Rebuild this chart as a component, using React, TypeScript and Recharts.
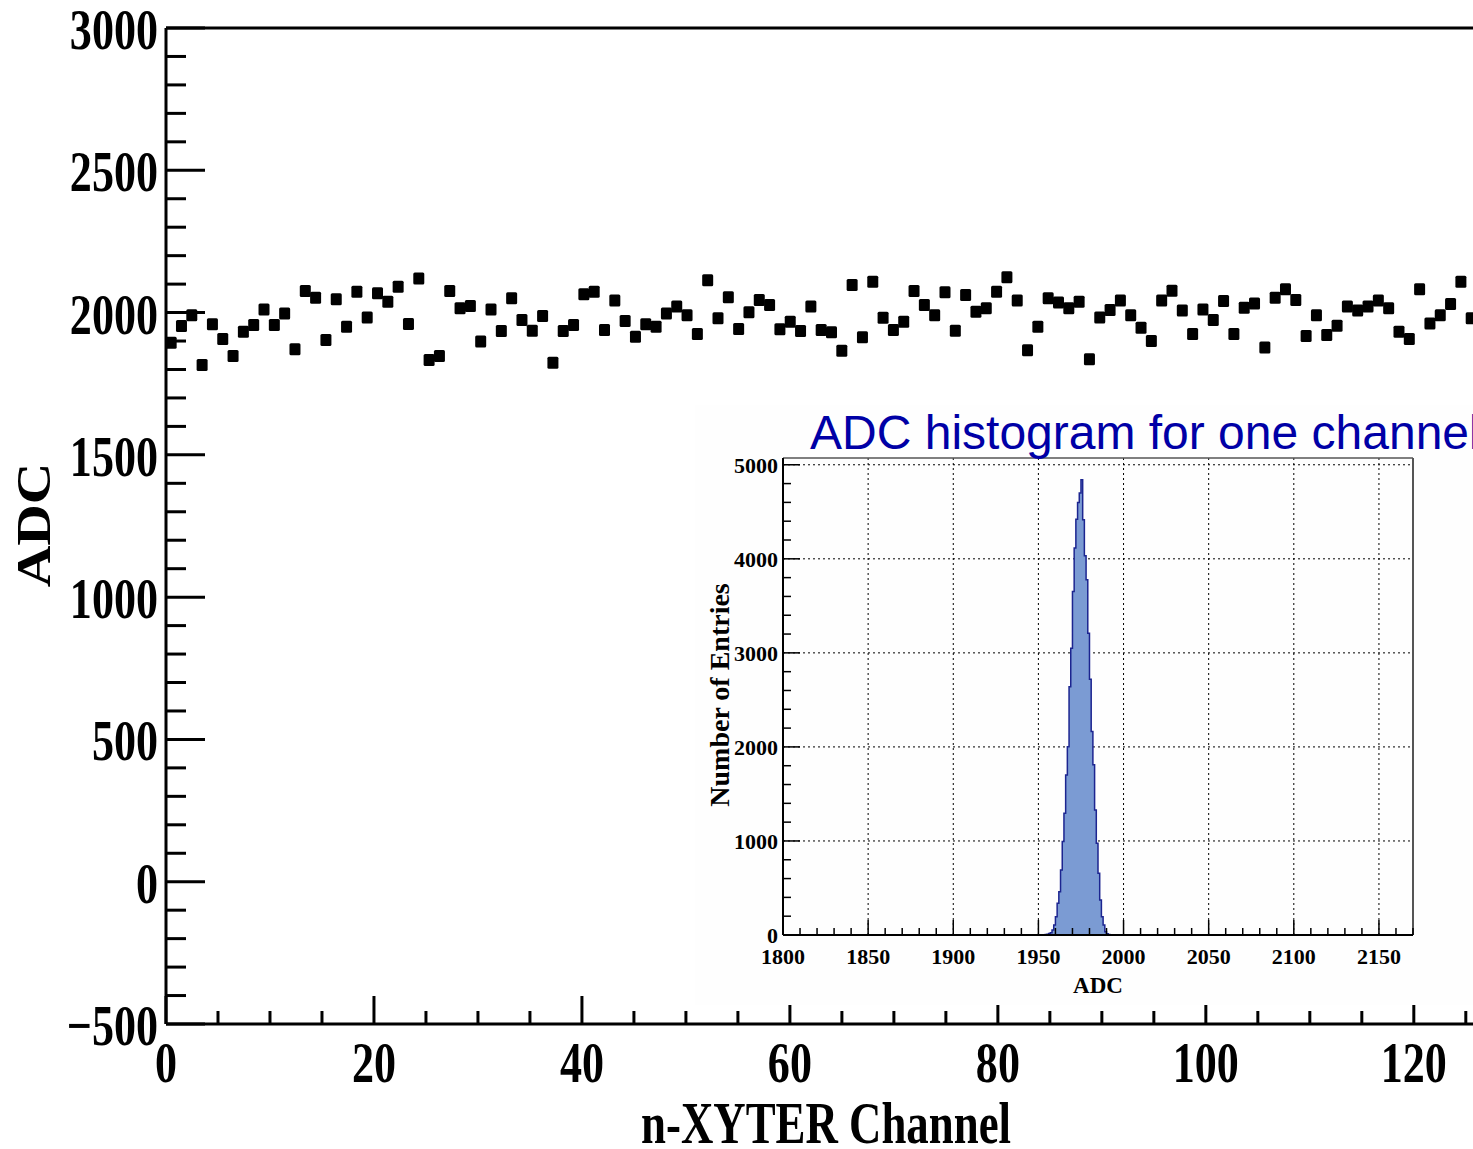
import { ScatterChart, Scatter, XAxis, YAxis, ComposedChart, Area, CartesianGrid, ReferenceLine } from "recharts"

// mean ADC per n-XYTER channel (0..126 visible)
const channelAdc = [
  1894, 1953, 1991, 1816, 1959, 1907, 1847, 1933, 1956, 2011,
  1956, 1997, 1871, 2076, 2052, 1904, 2047, 1950, 2073, 1983,
  2068, 2038, 2091, 1960, 2120, 1833, 1847, 2076, 2015, 2023,
  1898, 2011, 1935, 2050, 1974, 1936, 1988, 1824, 1935, 1956,
  2064, 2073, 1939, 2042, 1970, 1915, 1959, 1950, 1997, 2021,
  1991, 1925, 2114, 1980, 2054, 1942, 2001, 2044, 2027, 1941,
  1968, 1935, 2021, 1939, 1931, 1866, 2097, 1913, 2108, 1982,
  1939, 1968, 2076, 2027, 1991, 2071, 1936, 2062, 2003, 2015,
  2073, 2124, 2042, 1868, 1950, 2050, 2035, 2015, 2038, 1836,
  1983, 2009, 2042, 1991, 1947, 1900, 2042, 2077, 2007, 1925,
  2011, 1974, 2041, 1925, 2017, 2032, 1877, 2052, 2082, 2044,
  1918, 1991, 1921, 1954, 2021, 2007, 2021, 2042, 2015, 1933,
  1907, 2082, 1962, 1991, 2030, 2108, 1980,
]

// inset histogram: bin low edge (ADC) and entries
const histBins = [
  1953, 1954, 1955, 1956, 1957, 1958, 1959, 1960, 1961, 1962,
  1963, 1964, 1965, 1966, 1967, 1968, 1969, 1970, 1971, 1972,
  1973, 1974, 1975, 1976, 1977, 1978, 1979, 1980, 1981, 1982,
  1983, 1984, 1985, 1986, 1987, 1988, 1989, 1990, 1991, 1992,
]
const histCounts = [
  2, 4, 8, 15, 25, 53, 106, 195, 337, 461,
  691, 993, 1294, 1702, 2003, 2641, 3050, 3652, 4114, 4422,
  4599, 4699, 4840, 4415, 4032, 3777, 3209, 2720, 2163, 1809,
  1330, 975, 656, 372, 195, 106, 35, 12, 5, 2,
]

const mainXTicks = Array.from({ length: 26 }, (_, i) => i * 5)
const mainYTicks = Array.from({ length: 36 }, (_, i) => -500 + i * 100)
const insetXTicks = Array.from({ length: 38 }, (_, i) => 1800 + i * 10)
const insetYTicks = Array.from({ length: 26 }, (_, i) => i * 200)
const insetGridX = [1850, 1900, 1950, 2000, 2050, 2100, 2150]
const insetGridY = [1000, 2000, 3000, 4000, 5000]

// the 2D histogram has 129 channel bins spread over 0..128
const binWidth = 128 / 129
const scatterData = channelAdc.map((adc, ch) => ({ ch: (ch + 0.5) * binWidth, adc }))
const histData = [
  ...histBins.map((adc, i) => ({ adc, count: histCounts[i] })),
  { adc: histBins[histBins.length - 1] + 1, count: 0 },
]

const SERIF = "'Liberation Serif', 'Times New Roman', serif"
const fmt = (v: number) => (v < 0 ? "\u2212" + Math.abs(v) : String(v))

function MainYTick({ x, y, payload }: any) {
  const v = payload.value
  const major = v % 500 === 0
  return (
    <g>
      <line x1={x} x2={x + (major ? 39 : 20)} y1={y} y2={y} stroke="#000" strokeWidth={3} />
      {major && (
        <text transform={`translate(${x - 8},${y + 21}) scale(0.76,1)`} textAnchor="end"
          fontFamily={SERIF} fontWeight="bold" fontSize={58} fill="#000">{fmt(v)}</text>
      )}
    </g>
  )
}

function MainXTick({ x, y, payload }: any) {
  const v = payload.value
  const major = v % 20 === 0
  return (
    <g>
      <line x1={x} x2={x} y1={y} y2={y - (major ? 28 : 13)} stroke="#000" strokeWidth={3} />
      {major && (
        <text transform={`translate(${x},${y + 58}) scale(0.76,1)`} textAnchor="middle"
          fontFamily={SERIF} fontWeight="bold" fontSize={58} fill="#000">{v}</text>
      )}
    </g>
  )
}

function InsetYTick({ x, y, payload }: any) {
  const v = payload.value
  const major = v % 1000 === 0
  return (
    <g>
      <line x1={x} x2={x + (major ? 17 : 8)} y1={y} y2={y} stroke="#000" strokeWidth={1.5} />
      {major && (
        <text x={x - 5} y={y + 8} textAnchor="end" fontFamily={SERIF} fontWeight="bold"
          fontSize={22} fill="#000">{v}</text>
      )}
    </g>
  )
}

function InsetXTick({ x, y, payload }: any) {
  const v = payload.value
  const major = v % 50 === 0
  return (
    <g>
      <line x1={x} x2={x} y1={y} y2={y - (major ? 15 : 7)} stroke="#000" strokeWidth={1.5} />
      {major && (
        <text x={x} y={y + 29} textAnchor="middle" fontFamily={SERIF} fontWeight="bold"
          fontSize={22} fill="#000">{v}</text>
      )}
    </g>
  )
}

function Blob({ cx, cy }: any) {
  return <rect x={cx - 5.5} y={cy - 6} width={11} height={12} rx={1.5} fill="#000" />
}

export default function App() {
  return (
    <div style={{ position: "absolute", left: 0, top: 0, width: 1473, height: 1149, overflow: "hidden", background: "#fff" }}>
      <ScatterChart width={1510} height={1149} margin={{ top: 28, right: 13, left: 0, bottom: 0 }}>
        <XAxis type="number" dataKey="ch" domain={[0, 128]} ticks={mainXTicks} interval={0}
          height={125} tickSize={0} tickMargin={0} tick={<MainXTick />}
          axisLine={{ stroke: "#000", strokeWidth: 3 }} />
        <YAxis type="number" dataKey="adc" domain={[-500, 3000]} ticks={mainYTicks} interval={0}
          width={166} tickSize={0} tickMargin={0} tick={<MainYTick />}
          axisLine={{ stroke: "#000", strokeWidth: 3 }} />
        <ReferenceLine y={3000} stroke="#000" strokeWidth={3} />
        <ReferenceLine x={128} stroke="#000" strokeWidth={3} />
        <Scatter data={scatterData} fill="#000" shape={<Blob />} isAnimationActive={false} />
      </ScatterChart>

      <div style={{ position: "absolute", left: 695, top: 405, width: 778, height: 600, background: "#fefefe" }}>
        <ComposedChart width={778} height={600} data={histData} margin={{ top: 53, right: 60, left: 0, bottom: 0 }}>
          <CartesianGrid horizontalValues={insetGridY} verticalValues={insetGridX}
            stroke="#000" strokeDasharray="2 3" strokeWidth={1} />
          <XAxis type="number" dataKey="adc" domain={[1800, 2170]} ticks={insetXTicks} interval={0}
            allowDataOverflow height={70} tickSize={0} tickMargin={0} tick={<InsetXTick />}
            axisLine={{ stroke: "#000", strokeWidth: 2 }} />
          <YAxis type="number" domain={[0, 5072]} ticks={insetYTicks} interval={0} allowDataOverflow
            width={88} tickSize={0} tickMargin={0} tick={<InsetYTick />}
            axisLine={{ stroke: "#000", strokeWidth: 2 }} />
          <ReferenceLine y={5072} stroke="#555" strokeWidth={1.5} />
          <ReferenceLine x={2170} stroke="#555" strokeWidth={2} />
          <Area type="stepAfter" dataKey="count" baseValue={0} stroke="#1c2590" strokeWidth={1.5}
            fill="#7b9bd3" fillOpacity={1} isAnimationActive={false} />
        </ComposedChart>
      </div>

      <svg width={1473} height={1149} style={{ position: "absolute", left: 0, top: 0, pointerEvents: "none" }}>
        <text transform="translate(826,1143) scale(0.76,1)" textAnchor="middle" fontFamily={SERIF}
          fontWeight="bold" fontSize={59} fill="#000">n-XYTER Channel</text>
        <text transform="translate(50,525) rotate(-90) scale(1.2,1)" textAnchor="middle" fontFamily={SERIF}
          fontWeight="bold" fontSize={48} fill="#000">ADC</text>
        <text x={810} y={449} fontFamily="'Liberation Sans', Arial, sans-serif" fontSize={48}
          fill="#0000a6">ADC histogram for one channel</text>
        <text transform="translate(729,695) rotate(-90)" textAnchor="middle" fontFamily={SERIF}
          fontWeight="bold" fontSize={28} fill="#000">Number of Entries</text>
        <text x={1098} y={993} textAnchor="middle" fontFamily={SERIF} fontWeight="bold"
          fontSize={23} fill="#000">ADC</text>
      </svg>
    </div>
  )
}
